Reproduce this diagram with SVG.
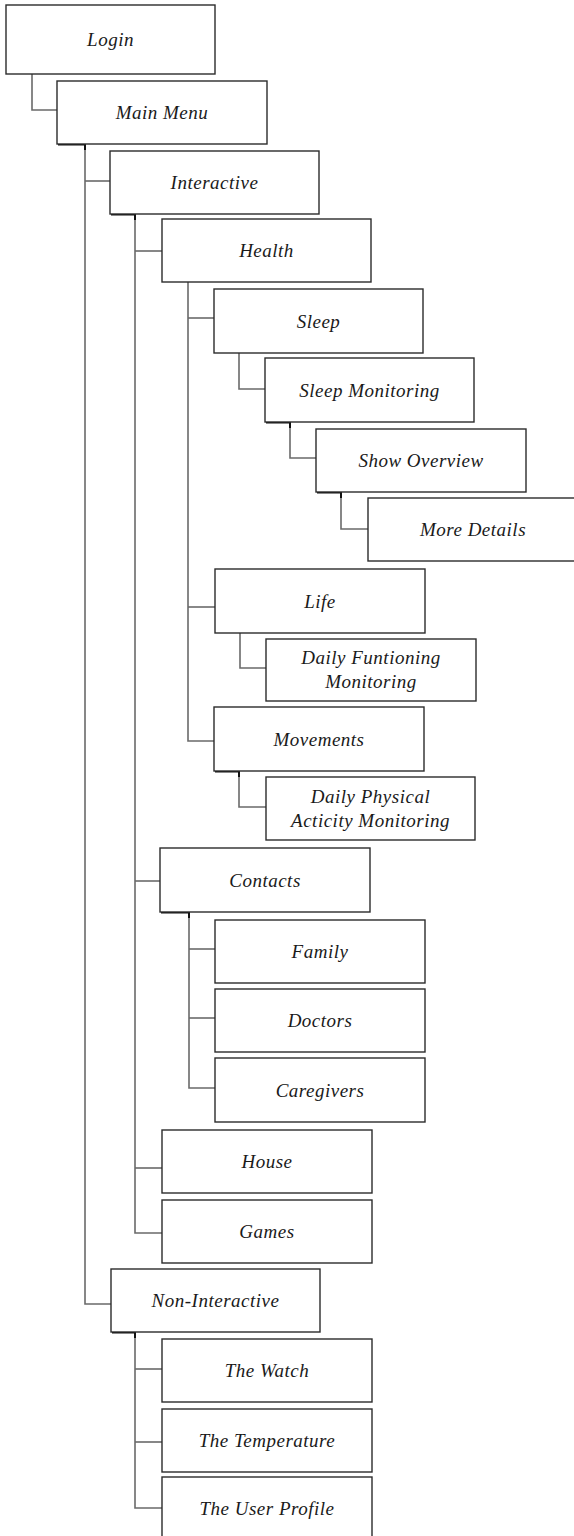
<svg xmlns="http://www.w3.org/2000/svg" width="574" height="1536" viewBox="0 0 574 1536">
<style>
.box{fill:#fff;stroke:#2b2b2b;stroke-width:1.4}
.lbl{font-family:"Liberation Serif",serif;font-style:italic;font-size:19px;letter-spacing:0.5px;fill:#1a1a1a;text-anchor:middle}
.con{fill:none;stroke:#6a6a6a;stroke-width:1.6}
.dk{fill:none;stroke:#111;stroke-width:2}
</style>
<rect width="574" height="1536" fill="#fff"/>
<g id="connectors">
<path class="con" d="M32,74 V110 H57"/>
<path class="con" d="M85,144 V1304 H111"/>
<path class="con" d="M85,181 H110"/>
<path class="con" d="M135,214 V1233 H162"/>
<path class="con" d="M135,251 H162"/>
<path class="con" d="M135,881 H160"/>
<path class="con" d="M135,1168 H162"/>
<path class="con" d="M188,282 V741 H214"/>
<path class="con" d="M188,318 H214"/>
<path class="con" d="M188,607 H215"/>
<path class="con" d="M239,353 V389 H265"/>
<path class="con" d="M290,422 V458 H316"/>
<path class="con" d="M341,492 V529 H368"/>
<path class="con" d="M240,633 V668 H266"/>
<path class="con" d="M239,771 V807 H266"/>
<path class="con" d="M189,912 V1088 H215"/>
<path class="con" d="M189,949 H215"/>
<path class="con" d="M189,1018 H215"/>
<path class="con" d="M135,1332 V1508 H162"/>
<path class="con" d="M135,1369 H162"/>
<path class="con" d="M135,1442 H162"/>
<path class="dk" d="M58,144.5 H85 V150"/>
<path class="dk" d="M111,214.5 H135 V220"/>
<path class="dk" d="M266,422.5 H290 V428"/>
<path class="dk" d="M317,492.5 H341 V498"/>
<path class="dk" d="M215,771.5 H239 V777"/>
<path class="dk" d="M161,912.5 H189 V918"/>
<path class="dk" d="M112,1332.5 H135 V1338"/>
</g>
<g id="login"><rect class="box" x="6" y="5" width="209" height="69"/><text class="lbl" x="110.5" y="46">Login</text></g>
<g id="main-menu"><rect class="box" x="57" y="81" width="210" height="63"/><text class="lbl" x="162" y="119">Main Menu</text></g>
<g id="interactive"><rect class="box" x="110" y="151" width="209" height="63"/><text class="lbl" x="214.5" y="189">Interactive</text></g>
<g id="health"><rect class="box" x="162" y="219" width="209" height="63"/><text class="lbl" x="266.5" y="257">Health</text></g>
<g id="sleep"><rect class="box" x="214" y="289" width="209" height="64"/><text class="lbl" x="318.5" y="327.5">Sleep</text></g>
<g id="sleep-monitoring"><rect class="box" x="265" y="358" width="209" height="64"/><text class="lbl" x="369.5" y="396.5">Sleep Monitoring</text></g>
<g id="show-overview"><rect class="box" x="316" y="429" width="210" height="63"/><text class="lbl" x="421" y="467">Show Overview</text></g>
<g id="more-details"><rect class="box" x="368" y="498" width="210" height="63"/><text class="lbl" x="473" y="536">More Details</text></g>
<g id="life"><rect class="box" x="215" y="569" width="210" height="64"/><text class="lbl" x="320" y="607.5">Life</text></g>
<g id="daily-functioning"><rect class="box" x="266" y="639" width="210" height="62"/><text class="lbl" x="371" y="664">Daily Funtioning</text><text class="lbl" x="371" y="688">Monitoring</text></g>
<g id="movements"><rect class="box" x="214" y="707" width="210" height="64"/><text class="lbl" x="319" y="745.5">Movements</text></g>
<g id="daily-physical"><rect class="box" x="266" y="777" width="209" height="63"/><text class="lbl" x="370.5" y="803">Daily Physical</text><text class="lbl" x="370.5" y="827">Acticity Monitoring</text></g>
<g id="contacts"><rect class="box" x="160" y="848" width="210" height="64"/><text class="lbl" x="265" y="886.5">Contacts</text></g>
<g id="family"><rect class="box" x="215" y="920" width="210" height="63"/><text class="lbl" x="320" y="958">Family</text></g>
<g id="doctors"><rect class="box" x="215" y="989" width="210" height="63"/><text class="lbl" x="320" y="1027">Doctors</text></g>
<g id="caregivers"><rect class="box" x="215" y="1058" width="210" height="64"/><text class="lbl" x="320" y="1096.5">Caregivers</text></g>
<g id="house"><rect class="box" x="162" y="1130" width="210" height="63"/><text class="lbl" x="267" y="1168">House</text></g>
<g id="games"><rect class="box" x="162" y="1200" width="210" height="63"/><text class="lbl" x="267" y="1238">Games</text></g>
<g id="non-interactive"><rect class="box" x="111" y="1269" width="209" height="63"/><text class="lbl" x="215.5" y="1307">Non-Interactive</text></g>
<g id="the-watch"><rect class="box" x="162" y="1339" width="210" height="63"/><text class="lbl" x="267" y="1377">The Watch</text></g>
<g id="the-temperature"><rect class="box" x="162" y="1409" width="210" height="63"/><text class="lbl" x="267" y="1447">The Temperature</text></g>
<g id="the-user-profile"><rect class="box" x="162" y="1477" width="210" height="64"/><text class="lbl" x="267" y="1514.5">The User Profile</text></g>
</svg>
